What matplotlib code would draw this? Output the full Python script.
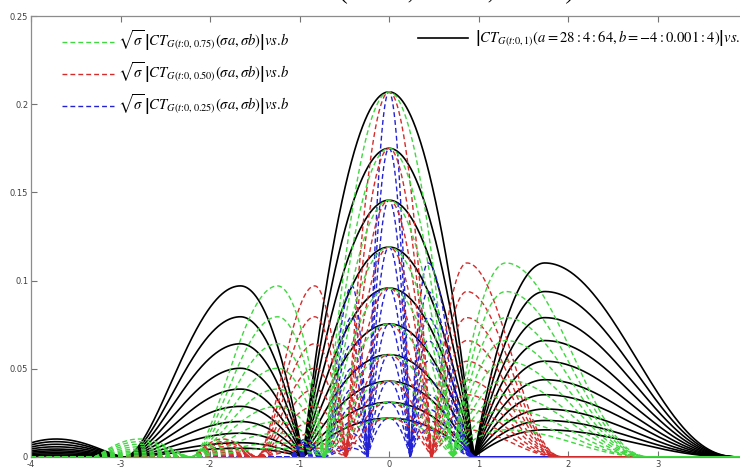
import numpy as np
import matplotlib.pyplot as plt
from matplotlib.lines import Line2D

# --- DATOS ---
a_values = list(range(28, 65, 4))          # a = 28:4:64 -> 10 curvas
sigmas = [0.75, 0.50, 0.25]
sigma_labels = ['0.75', '0.50', '0.25']
sigma_colors = ['#3fd83f', '#d42b2b', '#2222d2']

# ceros de |CT| vs b (bordes de los lobulos) y posicion de cada pico
lobe_edges = [-4.40, -2.96, -0.96, 0.95, 3.95]
lobe_peaks = [-3.72, -1.66, 0.0, 1.74]
# exponentes del perfil de cada lobulo (lado izquierdo, lado derecho)
lobe_shape = [(1.3, 1.5), (1.9, 1.0), (1.0, 1.0), (1.0, 2.8)]

# altura de los picos de cada lobulo, una por cada a
peak_far_left = [0.0102, 0.0087, 0.0072, 0.0058, 0.0045, 0.0035, 0.0026, 0.0018, 0.0011, 0.0006]
peak_left = [0.097, 0.0795, 0.0642, 0.0503, 0.0385, 0.0287, 0.0201, 0.0135, 0.0081, 0.0050]
peak_centre = [0.207, 0.175, 0.1456, 0.119, 0.0958, 0.0755, 0.058, 0.043, 0.031, 0.022]
peak_right = [0.110, 0.0938, 0.079, 0.066, 0.0543, 0.0438, 0.0353, 0.0272, 0.0207, 0.0154]

x_ticks = [-4, -3, -2, -1, 0, 1, 2, 3, 4]
y_ticks = [0, 0.05, 0.1, 0.15, 0.2, 0.25]

b = np.arange(-4, 4.0005, 0.001)


def lobe(x, x0, xp, x1, r_left, r_right):
    y = np.zeros_like(x)
    m = (x >= x0) & (x <= xp)
    u = (xp - x[m]) / (xp - x0)
    y[m] = (1 - u ** 2) ** r_left
    m = (x > xp) & (x <= x1)
    u = (x[m] - xp) / (x1 - xp)
    y[m] = (1 - u ** 2) ** r_right
    return y


def ct_modulus(x, i):
    heights = [peak_far_left[i], peak_left[i], peak_centre[i], peak_right[i]]
    y = np.zeros_like(x)
    for k in range(4):
        y += heights[k] * lobe(x, lobe_edges[k], lobe_peaks[k], lobe_edges[k + 1], *lobe_shape[k])
    return y


plt.rcParams['mathtext.fontset'] = 'stix'

fig = plt.figure(figsize=(7.4, 4.68), dpi=100)
ax = fig.add_axes([31 / 740, 11 / 468, 716 / 740, 441 / 468])

# |CT| (negro)
for i in range(len(a_values)):
    ax.plot(b, ct_modulus(b, i), color='black', lw=1.2, zorder=2)

# sqrt(sigma)|CT(sigma a, sigma b)| -> lobulos comprimidos por sigma
for s, col in zip(sigmas[::-1], sigma_colors[::-1]):
    for i in range(len(a_values)):
        ax.plot(b, ct_modulus(b / s, i), color=col, lw=1.0,
                dashes=(3.5, 2.2), zorder=3)

ax.set_xlim(-4, 4)
ax.set_ylim(0, 0.25)
ax.set_xticks(x_ticks)
ax.set_yticks(y_ticks)
ax.set_xticklabels(['%g' % v for v in x_ticks])
ax.set_yticklabels(['%g' % v for v in y_ticks])
ax.tick_params(direction='in', length=4, width=0.8, color='0.45',
               labelsize=6, labelcolor='0.25', pad=2,
               top=True, right=True)
for sp in ax.spines.values():
    sp.set_color('0.55')
    sp.set_linewidth(0.9)

# leyendas
handles = [Line2D([], [], color=c, lw=1.0, dashes=(3.5, 2.2)) for c in sigma_colors]
labels = [r'$\sqrt{\sigma}\,\left|CT_{G(t\!:\!0,%s)}(\sigma a,\sigma b)\right|vs.\!b$' % s
          for s in sigma_labels]
leg1 = ax.legend(handles, labels, loc='upper left', bbox_to_anchor=(0.043, 0.970),
                 frameon=False, fontsize=10.5, handlelength=3.6, handletextpad=0.25,
                 borderpad=0, borderaxespad=0, labelspacing=0.55)
ax.add_artist(leg1)

h_black = [Line2D([], [], color='black', lw=1.2)]
l_black = [r'$\left|CT_{G(t\!:\!0,1)}(a=28:4:64,b=-4:0.001:4)\right|vs.\!b$']
ax.legend(h_black, l_black, loc='upper left', bbox_to_anchor=(0.541, 0.970),
          frameon=False, fontsize=10.5, handlelength=3.4, handletextpad=0.45,
          borderpad=0, borderaxespad=0)

# titulo cortado por arriba
fig.text(336 / 740, 1.0 + 2 / 468, r'$(0.75,\ 0.50,\ 0.25)$', fontsize=24,
         ha='left', va='baseline')

fig.savefig('out.png', dpi=100)
